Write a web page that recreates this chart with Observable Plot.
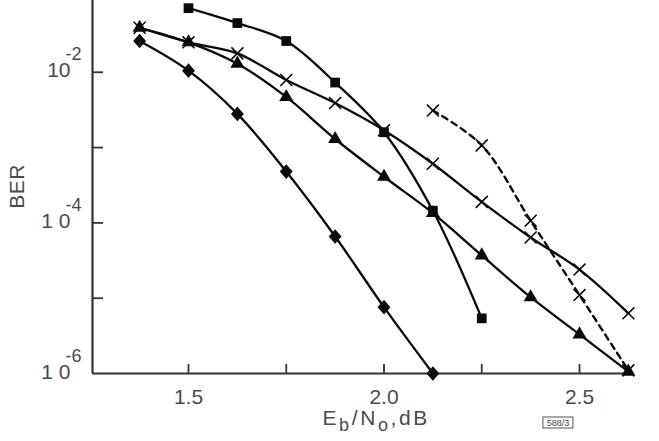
<!DOCTYPE html>
<html><head><meta charset="utf-8">
<script src="https://cdn.jsdelivr.net/npm/d3@7"></script>
<script src="https://cdn.jsdelivr.net/npm/@observablehq/plot@0.6"></script>
<style>body{margin:0;background:#fff} svg{display:block}</style>
</head><body><div id="chart"></div>
<script>
// ---- data ----
const ebno = [1.375, 1.5, 1.625, 1.75, 1.875, 2.0, 2.125, 2.25, 2.375, 2.5, 2.625];
const diamondX = [1.375, 1.5, 1.625, 1.75, 1.875, 2.0, 2.125];
const diamondBER = [0.026, 0.0105, 0.0028, 4.8e-4, 6.6e-5, 7.6e-6, 1.0e-6];
const squareX = [1.5, 1.625, 1.75, 1.875, 2.0, 2.125, 2.25];
const squareBER = [0.071, 0.045, 0.026, 0.0073, 0.0016, 1.45e-4, 5.4e-6];
const triangleX = ebno;
const triangleBER = [0.039, 0.025, 0.013, 0.0047, 0.0013, 4.1e-4, 1.35e-4, 3.7e-5, 1.03e-5, 3.3e-6, 1.06e-6];
const crossX = ebno;
const crossBER = [0.039, 0.025, 0.0178, 0.0079, 0.0039, 0.0017, 6.1e-4, 1.9e-4, 6.4e-5, 2.4e-5, 6.3e-6];
const dashedX = [2.125, 2.25, 2.375, 2.5, 2.625];
const dashedBER = [0.0031, 0.00107, 1.07e-4, 1.1e-5, 1.1e-6];

const xTicks = [1.5, 2.0, 2.5];
const xMinorTicks = [1.75, 2.25];
const yTicks = [1e-2, 1e-4, 1e-6];
const yMinorTicks = [1e-3, 1e-5];
const yMantissa = ["10", "1 0", "1 0"];
const yExponent = ["-2", "-4", "-6"];
const xLabelParts = [["E", 0], ["b", 1], ["/N", 0], ["o", 1], [",dB", 0]];
const figureTag = "588/3";

// ---- layout ----
const W = 659, H = 441;
const mL = 92, mR = 29, mT = 0, mB = 68;
const xDom = [1.2545, 2.6304];
const yDom = [1e-6, Math.pow(10, -1.047)];
const pxPerX = (W - mL - mR) / (xDom[1] - xDom[0]);
const pxPerDec = (H - mT - mB) / (Math.log10(yDom[1]) - Math.log10(yDom[0]));
const ink = "#0a0a0a", grey = "#4a4a4a";
const font = "Liberation Sans, Arial, sans-serif";

// rhombus marker (square rotated 45°)
const rhombus = {
  draw(ctx, size) {
    const s = Math.sqrt(size / 2);
    ctx.moveTo(0, -s * 1.08); ctx.lineTo(s * 0.95, 0); ctx.lineTo(0, s * 1.08); ctx.lineTo(-s * 0.95, 0); ctx.closePath();
  }
};

const toRows = (xs, ys) => xs.map((x, i) => ({x, y: ys[i]}));
const D = toRows(diamondX, diamondBER);
const S = toRows(squareX, squareBER);
const T = toRows(triangleX, triangleBER);
const C = toRows(crossX, crossBER);
const Dd = toRows(dashedX, dashedBER);
const yT = yTicks.map((v, i) => ({v, m: yMantissa[i], e: yExponent[i]}));

const lineOpts = {x: "x", y: "y", stroke: ink, strokeWidth: 2.3, curve: "catmull-rom"};

const chart = Plot.plot({
  width: W, height: H,
  marginLeft: mL, marginRight: mR, marginTop: mT, marginBottom: mB,
  style: {fontFamily: font, fontSize: "21px", color: grey, background: "#fff"},
  x: {domain: xDom, axis: null},
  y: {type: "log", domain: yDom, axis: null},
  marks: [
    // axes
    Plot.ruleX([xDom[0]], {y1: yDom[0], y2: yDom[1], stroke: "#333", strokeWidth: 2.2}),
    Plot.ruleY([yDom[0]], {x1: xDom[0], x2: xDom[1], stroke: "#333", strokeWidth: 2.2}),
    Plot.ruleY([...yTicks.slice(0, 2), ...yMinorTicks], {x1: xDom[0], x2: xDom[0] + 11 / pxPerX, stroke: "#333", strokeWidth: 1.8}),
    Plot.ruleX([...xTicks, ...xMinorTicks], {x: d => d, y1: yDom[0], y2: yDom[0] * Math.pow(10, 9 / pxPerDec), stroke: "#333", strokeWidth: 1.8}),
    // tick labels
    Plot.text(xTicks, {x: d => d, y: yDom[0], text: d => d.toFixed(1), lineAnchor: "bottom", dy: 30, fill: grey, fontSize: 21, letterSpacing: 1.5}),
    Plot.text(yT, {x: xDom[0], y: "v", text: "m", textAnchor: "end", lineAnchor: "bottom", dx: -22, dy: 5, fill: grey, fontSize: 21}),
    Plot.text(yT, {x: xDom[0], y: "v", text: "e", textAnchor: "start", lineAnchor: "bottom", dx: -27, dy: -12, fill: grey, fontSize: 18}),
    // series lines
    Plot.line(C, lineOpts),
    Plot.line(T, lineOpts),
    Plot.line(D, lineOpts),
    Plot.line(S, lineOpts),
    Plot.line(Dd, {...lineOpts, strokeDasharray: "6,5", strokeWidth: 2.4}),
    // markers
    Plot.dot(C, {x: "x", y: "y", symbol: "times", r: 5.5, stroke: ink, strokeWidth: 1.6}),
    Plot.dot(Dd, {x: "x", y: "y", symbol: "times", r: 5.5, stroke: ink, strokeWidth: 1.6}),
    Plot.dot(T, {x: "x", y: "y", symbol: "triangle", r: 5.2, fill: ink}),
    Plot.dot(D, {x: "x", y: "y", symbol: rhombus, r: 5.4, fill: ink}),
    Plot.dot(S, {x: "x", y: "y", symbol: "square", r: 5.5, fill: ink})
  ]
});
document.getElementById("chart").appendChild(chart);

// axis titles and figure tag, positioned from the chart's scales
const sx = chart.scale("x"), sy = chart.scale("y");
const svg = d3.select(chart);
const x0 = sx.apply(xDom[0]), yb = sy.apply(yDom[0]);

svg.append("text")
  .attr("transform", `translate(${x0 - 68},${sy.apply(3e-4)}) rotate(-90)`)
  .attr("text-anchor", "middle")
  .attr("fill", grey).attr("font-size", 21).attr("letter-spacing", 0.5)
  .attr("font-family", font)
  .text("BER");

const xl = svg.append("text")
  .attr("x", sx.apply(2.0) - 61).attr("y", yb + 52)
  .attr("text-anchor", "start")
  .attr("fill", grey).attr("font-size", 21).attr("letter-spacing", 2.6)
  .attr("font-family", font);
let prev = 0;
xLabelParts.forEach(([t, sub]) => {
  xl.append("tspan").attr("dy", (sub - prev) * 6).attr("font-size", sub ? 18 : 21).text(t);
  prev = sub;
});

const tx = sx.apply(2.4) + 3, ty = yb + 44;
svg.append("rect").attr("x", tx).attr("y", ty).attr("width", 30).attr("height", 11)
  .attr("fill", "none").attr("stroke", "#555").attr("stroke-width", 1);
svg.append("text").attr("x", tx + 15).attr("y", ty + 9).attr("text-anchor", "middle")
  .attr("fill", "#444").attr("font-size", 9)
  .attr("font-family", font).text(figureTag);
</script>
</body></html>
